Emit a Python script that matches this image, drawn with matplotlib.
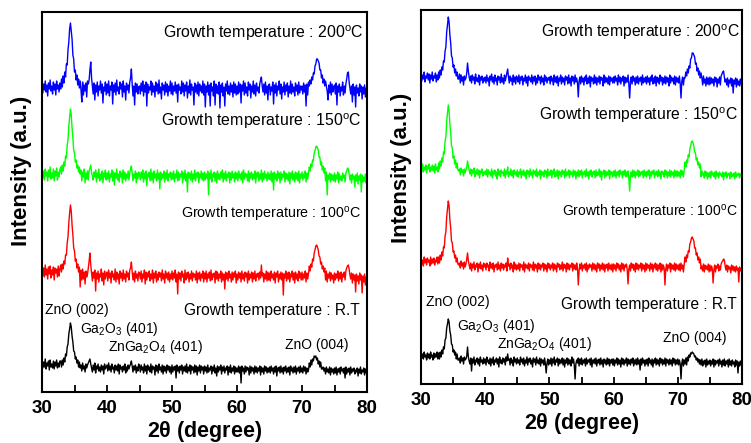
import numpy as np
import matplotlib
matplotlib.use("Agg")
import matplotlib.pyplot as plt
from matplotlib.ticker import MultipleLocator

plt.rcParams['font.family'] = ['Liberation Sans', 'DejaVu Sans']
plt.rcParams['mathtext.fontset'] = 'custom'
plt.rcParams['mathtext.rm'] = 'Liberation Sans'
plt.rcParams['mathtext.default'] = 'regular'

# 2-theta sampling: 30..80 deg, step 0.125 deg (401 points)
two_theta = np.linspace(30, 80, 401)

# ---------------- left panel: intensities (a.u.) ----------------
left_200 = [
 26,15,24,18,27,16,23,12,25,19,28,17,22,14,26,18,24,13,27,19,23,16,25,19,29,21,32,25,36,31,44,43,58,66,79,85,77,69,53,49,
 36,38,28,33,23,29,20,27,18,6,26,13,23,17,25,11,27,24,28,38,46,30,22,14,25,8,23,16,26,12,22,18,27,15,24,5,21,17,26,13,
 24,15,27,12,22,18,26,4,23,16,25,13,28,17,21,14,26,19,24,11,27,16,22,8,25,18,23,15,26,30,39,24,12,22,3,25,16,24,14,21,
 22,14,25,17,27,12,23,16,26,2,24,15,21,18,27,13,25,16,22,11,26,17,24,14,28,15,21,9,25,18,23,13,26,16,24,12,22,17,27,14,
 25,13,22,17,26,15,23,6,24,18,21,14,27,16,25,12,23,17,26,10,22,15,28,13,24,18,21,3,25,16,23,14,26,12,24,17,22,15,27,13,
 24,1,22,16,26,13,23,2,25,17,21,12,27,3,24,15,22,14,26,0,23,16,25,12,21,2,24,17,27,14,22,13,25,16,23,11,26,15,24,13,
 22,14,26,16,24,5,23,17,27,13,25,15,21,12,26,18,24,10,22,16,27,14,23,12,25,17,21,15,24,28,31,22,16,24,13,26,15,22,8,23,
 24,13,21,17,26,4,23,15,25,12,22,18,27,14,24,9,21,16,26,13,23,17,25,11,22,15,27,14,24,16,21,12,25,17,23,13,26,15,22,18,
 22,14,25,16,23,2,24,13,26,22,28,24,31,28,35,34,42,44,49,49,47,45,38,38,30,33,25,29,22,27,22,17,8,23,15,26,13,24,16,21,
 23,14,25,3,22,16,24,12,21,17,26,13,22,15,24,29,35,36,26,20,14,22,6,24,13,21,1,23,15,20,12,24,16,22,9,21,14,23,11,20,
 18]
left_150 = [
 27,17,24,15,26,19,23,14,25,18,28,16,22,17,26,14,24,19,27,15,23,18,25,28,21,30,24,33,29,39,37,50,55,69,78,86,80,67,57,45,
 42,33,35,27,30,23,28,21,25,14,23,18,26,12,22,16,24,15,24,27,30,22,19,15,23,18,25,13,22,17,26,14,21,16,24,12,22,18,25,15,
 22,16,24,13,21,18,25,14,23,10,22,17,26,15,21,13,24,18,22,12,25,16,23,14,21,17,24,15,22,26,29,22,14,21,17,24,12,22,16,23,
 21,15,23,17,25,13,22,16,24,9,21,18,23,14,26,15,22,12,24,17,21,14,25,16,22,6,23,15,21,17,24,13,22,16,25,14,21,18,23,15,
 22,16,24,13,21,17,25,14,23,15,21,18,24,12,22,16,25,14,21,3,23,17,22,15,24,13,21,16,25,14,22,18,23,12,21,17,24,15,22,14,
 23,15,21,17,24,0,22,16,25,13,21,18,23,14,22,12,24,16,21,15,23,17,25,13,22,16,24,14,21,18,23,12,22,15,24,17,21,13,23,16,
 22,14,24,17,21,15,23,12,25,16,22,18,21,14,24,13,22,17,23,15,21,16,24,12,22,18,23,14,21,16,25,13,22,15,24,17,21,14,23,16,
 21,15,24,13,22,5,23,16,21,14,24,17,22,12,23,15,21,18,24,13,22,16,21,14,23,11,22,17,24,15,21,13,23,16,22,14,24,12,21,17,
 23,15,21,17,24,13,22,16,22,28,24,31,28,35,34,42,44,48,49,47,45,38,38,30,33,25,29,22,27,14,23,0,20,16,22,13,21,15,20,14,
 22,13,20,16,23,12,21,15,19,14,22,17,20,13,22,24,27,26,21,15,20,12,21,16,19,8,20,14,22,11,19,15,21,3,20,13,18,14,21,12,
 17]
left_100 = [
 29,19,27,18,30,20,26,16,28,21,29,17,25,20,28,15,27,22,26,18,29,19,26,30,23,31,26,34,31,40,40,52,58,72,82,90,84,70,60,47,
 44,34,36,27,31,23,28,8,25,15,26,16,23,11,24,18,21,27,34,42,30,22,14,23,17,25,4,22,16,24,13,21,18,26,14,22,10,24,16,21,
 23,14,25,17,22,12,24,18,21,15,26,13,23,16,21,11,24,17,22,14,25,16,21,13,24,18,22,15,25,27,33,23,15,22,13,24,17,21,14,23,
 22,16,24,13,21,17,25,11,23,15,22,18,24,14,21,16,25,12,22,17,24,13,21,15,23,18,22,14,25,16,21,12,24,17,22,15,23,13,21,16,
 24,15,22,17,25,13,21,1,23,16,22,14,24,18,21,12,25,15,22,17,23,13,21,16,24,14,22,18,21,15,24,12,22,16,23,14,21,17,24,13,
 22,16,24,13,21,17,23,14,25,15,21,18,22,12,24,16,23,14,21,17,24,13,22,15,21,6,23,16,22,14,24,17,21,13,23,15,22,18,24,12,
 21,15,23,17,22,13,24,16,21,14,23,18,22,12,24,15,21,17,23,13,22,16,24,14,21,18,22,15,23,17,30,19,22,13,21,16,24,14,23,15,
 22,14,24,17,21,15,23,12,22,18,24,13,21,16,23,15,22,0,21,17,24,14,22,16,23,13,21,18,24,15,22,12,23,16,21,14,24,17,22,15,
 23,15,21,17,24,13,22,16,21,29,24,31,28,36,34,42,45,49,50,48,45,39,38,31,33,26,29,23,27,15,24,13,21,17,23,14,22,16,20,12,
 22,15,21,17,24,14,22,16,23,13,21,18,23,15,24,27,29,30,26,20,16,22,12,21,15,20,3,21,14,19,11,22,15,20,2,19,13,21,10,18,
 17]
left_rt = [
 27,19,25,20,28,18,24,21,26,17,27,20,23,19,26,18,25,21,27,19,24,20,26,26,20,27,22,29,25,33,31,40,43,53,58,64,60,51,45,36,
 35,28,30,24,27,20,25,19,22,16,24,18,21,15,23,19,22,24,26,28,23,19,15,22,17,24,14,21,18,23,16,20,15,22,17,21,13,23,18,20,
 22,16,24,17,21,15,23,18,20,14,22,17,21,16,23,13,22,18,20,15,21,17,23,14,20,16,22,18,21,23,26,21,15,21,17,22,14,20,16,23,
 21,15,22,17,20,14,23,16,21,13,22,17,20,15,23,14,21,18,20,12,22,16,21,14,23,17,20,15,22,13,21,16,20,14,22,17,21,15,20,13,
 22,15,20,17,21,9,22,16,20,14,21,17,22,13,20,16,21,15,23,14,20,16,22,13,21,17,20,14,22,15,21,12,20,16,22,14,21,17,20,13,
 21,16,20,14,22,15,19,17,21,13,20,16,22,14,19,11,21,15,20,17,22,13,20,16,21,14,19,17,21,12,20,15,22,14,19,16,21,13,20,15,
 19,15,21,14,20,4,21,16,19,13,21,15,20,17,19,12,21,14,20,16,19,13,21,15,20,14,19,16,21,12,20,15,19,13,21,16,20,14,19,15,
 20,14,21,16,19,13,20,15,21,11,19,16,20,14,21,15,19,13,20,16,21,14,19,15,20,12,21,16,19,14,20,15,21,13,19,16,20,14,21,15,
 19,14,21,16,20,13,19,15,17,24,20,27,22,28,26,31,30,31,27,29,23,26,20,25,18,18,20,16,19,13,20,15,18,14,20,12,19,15,18,13,
 19,14,20,12,18,15,19,13,20,16,18,14,19,9,20,13,18,15,19,12,20,14,18,16,19,13,17,15,19,11,18,14,20,13,17,15,19,12,18,14,
 16]

# ---------------- right panel: intensities (a.u.) ----------------
right_200 = [
 25,18,24,20,27,17,23,21,26,19,25,16,24,20,27,18,23,21,26,17,24,19,27,21,29,24,32,29,38,37,48,52,67,74,82,77,64,56,43,41,
 32,34,26,30,23,27,20,20,25,16,24,18,22,14,23,19,21,26,36,28,22,18,23,16,24,19,22,15,25,18,21,17,24,14,22,19,23,16,21,18,
 22,16,24,18,21,13,23,19,25,17,22,15,24,18,21,14,23,19,22,16,25,17,21,15,24,18,22,26,30,22,16,23,18,21,14,24,17,22,15,23,
 21,17,24,15,22,19,23,14,21,18,24,16,22,13,23,19,21,17,24,15,22,18,23,14,21,16,24,19,22,15,23,17,21,14,24,18,22,16,21,19,
 22,15,23,18,21,14,24,17,22,16,23,13,21,18,24,15,22,17,21,14,23,19,22,15,24,16,21,13,23,18,22,15,24,17,21,16,2,18,22,15,
 23,17,21,14,22,18,24,15,21,16,23,12,22,18,21,15,24,16,22,14,21,17,23,15,22,19,21,13,24,16,22,17,21,15,23,14,22,18,21,16,
 22,16,23,18,21,14,24,17,22,15,21,18,23,13,22,16,21,17,24,15,1,17,22,15,23,18,21,14,22,16,23,15,21,18,22,14,24,16,21,17,
 22,15,23,17,21,14,22,18,24,15,21,16,23,13,22,17,21,15,24,18,22,14,21,16,23,15,22,17,21,13,24,16,22,18,21,15,23,14,22,17,
 21,16,23,15,1,18,22,14,21,21,27,23,30,26,33,31,40,41,46,46,44,42,35,36,28,31,24,28,21,26,21,14,23,16,20,13,22,15,21,14,
 22,15,21,16,20,13,22,17,21,12,20,16,22,14,23,25,27,28,22,17,20,14,21,12,19,16,21,13,20,6,19,15,21,12,20,14,18,13,20,15,
 17]
right_150 = [
 25,20,27,19,24,21,26,18,25,22,27,19,24,21,26,20,25,18,27,21,24,19,28,22,30,25,33,29,39,37,50,54,70,78,86,80,67,58,45,43,
 33,35,27,31,23,28,21,20,22,16,23,19,21,15,22,18,21,24,30,25,21,17,22,15,21,18,23,14,20,17,22,16,21,13,20,18,22,15,19,17,
 20,16,22,14,21,17,19,15,22,13,20,17,21,15,19,12,22,16,20,14,21,18,19,15,22,13,20,17,24,14,19,16,22,15,20,13,21,17,19,15,
 21,14,19,17,22,13,20,16,21,15,19,12,21,17,20,14,22,16,19,13,21,17,20,15,22,14,19,16,21,12,20,16,19,14,21,17,20,13,22,15,
 19,16,21,13,20,17,22,14,19,15,21,12,20,16,19,14,21,17,20,13,22,15,19,16,21,13,20,17,19,14,21,16,20,12,19,15,21,14,20,16,
 21,13,19,17,20,14,22,15,19,12,20,16,21,14,19,17,20,13,21,15,19,16,22,14,20,11,19,17,21,13,20,15,19,16,21,12,20,17,19,14,
 20,15,21,13,19,16,20,14,21,17,19,13,20,16,21,14,19,15,20,12,0,16,19,14,21,15,20,13,19,16,21,14,20,15,19,17,20,13,21,15,
 19,14,20,16,21,12,19,15,20,17,21,13,19,16,20,14,21,15,19,12,20,17,19,14,21,16,20,13,19,15,21,14,20,16,19,13,21,15,20,14,
 20,15,19,13,21,16,20,14,21,29,24,31,28,36,34,42,45,49,50,48,45,39,38,31,33,26,29,23,27,14,20,16,18,13,20,15,19,12,18,14,
 19,13,20,16,18,14,19,12,20,15,18,13,19,16,17,14,19,11,18,15,19,13,17,16,18,12,19,14,17,15,18,12,19,14,17,16,18,13,17,15,
 16]
right_100 = [
 27,21,25,19,28,22,26,20,27,23,25,19,28,21,26,22,27,20,25,23,28,21,28,22,30,25,33,29,38,37,49,53,68,76,84,79,65,57,44,42,
 33,34,27,30,23,27,21,20,22,17,24,19,22,16,23,18,21,26,32,24,20,16,22,14,21,17,23,15,20,18,22,13,21,17,23,16,20,14,22,18,
 21,15,22,18,20,14,23,17,21,16,22,13,20,18,21,15,23,16,20,14,22,17,21,15,20,18,22,14,27,19,21,15,22,17,20,13,23,16,21,15,
 20,16,22,14,21,18,20,15,23,13,21,17,20,16,22,14,21,18,20,15,23,14,21,17,20,13,22,16,21,15,20,18,22,14,21,16,20,13,22,17,
 21,15,20,17,22,14,21,16,20,13,22,18,21,15,20,16,23,14,21,17,20,13,22,16,21,15,20,18,22,14,21,16,20,15,22,17,0,14,21,16,
 22,14,20,17,21,15,22,13,20,16,21,18,20,14,22,16,21,15,20,13,22,17,21,14,20,16,22,15,21,13,20,17,21,14,22,16,20,15,21,13,
 21,16,20,14,22,17,21,15,20,13,22,16,21,14,20,18,21,15,1,16,20,14,22,17,21,15,20,13,22,16,21,15,20,17,22,14,21,16,20,13,
 22,15,21,17,20,14,22,16,21,13,20,17,22,15,21,14,20,16,22,13,21,15,20,17,0,16,21,14,20,17,22,13,21,16,20,15,22,14,21,16,
 20,15,21,14,22,16,20,13,21,28,23,30,27,34,33,41,43,47,48,46,44,37,37,30,32,25,28,22,26,16,19,14,21,13,20,16,19,15,21,13,
 20,14,19,16,2,15,20,13,19,17,21,14,19,15,21,23,24,26,25,19,15,20,13,19,16,18,12,20,15,19,14,18,13,19,15,17,3,18,14,16,
 15]
right_rt = [
 26,21,25,20,27,22,24,19,26,21,25,20,27,22,24,19,26,21,25,22,27,20,26,20,27,22,29,25,32,30,39,41,51,55,60,57,48,44,35,34,
 27,29,24,27,20,25,19,19,21,16,23,18,21,15,22,19,20,23,32,22,18,15,21,8,20,16,22,14,19,17,21,15,20,13,22,17,19,15,21,16,
 20,14,22,17,19,15,21,13,20,16,22,14,19,17,21,15,20,12,22,16,19,15,21,17,20,14,22,18,25,19,20,14,21,16,19,13,22,17,20,15,
 21,16,19,14,22,17,20,15,21,13,19,16,22,14,20,17,21,15,19,12,21,17,20,14,22,16,19,15,21,13,20,16,19,14,21,15,6,16,20,14,
 19,15,21,13,20,16,22,14,19,17,21,13,20,15,19,16,21,14,20,12,19,16,21,14,20,15,19,13,22,16,20,14,0,15,19,16,21,13,20,15,
 21,14,19,16,20,13,21,15,19,17,20,14,21,12,19,16,20,15,21,13,19,16,20,14,21,15,19,12,20,16,19,14,21,15,20,13,19,16,20,14,
 20,13,19,16,21,14,20,15,19,12,21,15,20,14,19,16,21,13,20,15,19,14,20,16,21,13,19,15,20,14,21,15,19,9,20,14,21,16,19,13,
 19,15,20,13,21,16,19,14,20,12,19,16,21,14,20,15,19,13,21,16,20,14,19,15,21,13,20,16,19,14,20,15,19,13,21,16,20,14,19,15,
 20,14,19,15,0,16,20,13,19,15,21,14,22,18,24,22,26,25,27,26,25,22,23,19,21,17,20,15,19,14,20,13,18,15,19,12,20,14,18,15,
 19,13,18,15,20,12,19,14,18,16,19,13,20,15,18,12,19,14,20,13,18,15,19,12,20,14,18,13,19,15,17,12,19,14,18,6,17,13,18,14,
 15]

left_offsets = [284, 197, 97, 5]
right_offsets = [285, 193, 99, 5]

series_colors = ['#0000ff', '#00ff00', '#ff0000', '#000000']
temp_labels = [r"Growth temperature : 200$^{o}$C",
               r"Growth temperature : 150$^{o}$C",
               r"Growth temperature : 100$^{o}$C",
               "Growth temperature : R.T"]
peak_labels = ["ZnO (002)", r"Ga$_2$O$_3$ (401)", r"ZnGa$_2$O$_4$ (401)", "ZnO (004)"]
xticks = [30, 40, 50, 60, 70, 80]

for name, s in [('left_200', left_200), ('left_150', left_150), ('left_100', left_100),
                ('left_rt', left_rt), ('right_200', right_200), ('right_150', right_150),
                ('right_100', right_100), ('right_rt', right_rt)]:
    assert len(s) == 401, (name, len(s))

W, H = 751, 443
fig = plt.figure(figsize=(W / 100, H / 100), dpi=100)


def make_panel(px_left, px_right, px_top, px_bottom, series, offsets,
               label_pos, label_sizes, peak_pos, ylab_xy):
    ax = fig.add_axes([px_left / W, 1 - px_bottom / H,
                       (px_right - px_left) / W, (px_bottom - px_top) / H])
    for ys, off, c in zip(series, offsets, series_colors):
        ax.plot(two_theta, np.asarray(ys, float) + off, color=c, lw=1.0)
    ax.set_xlim(30, 80)
    ax.set_ylim(0, px_bottom - px_top)
    ax.set_yticks([])
    ax.set_xticks(xticks)
    ax.xaxis.set_minor_locator(MultipleLocator(5))
    ax.tick_params(axis='x', which='both', direction='in', top=False,
                   width=1.3, length=5, labelsize=13.5, pad=6)
    for lab in ax.get_xticklabels():
        lab.set_fontweight('bold')
    for sp in ax.spines.values():
        sp.set_linewidth(1.5)
    ax.set_xlabel(r"2$\theta$ (degree)", fontsize=15.5, fontweight='bold', labelpad=1)

    def fx(px):
        return (px - px_left) / (px_right - px_left)

    def fy(py):
        return (px_bottom - py) / (px_bottom - px_top)

    for (rx, cy), txt, fs in zip(label_pos, temp_labels, label_sizes):
        ax.text(fx(rx), fy(cy), txt, transform=ax.transAxes, ha='right',
                va='center', fontsize=fs)
    for (lx, cy), txt in zip(peak_pos, peak_labels):
        ax.text(fx(lx), fy(cy), txt, transform=ax.transAxes, ha='left',
                va='center', fontsize=10)
    fig.text(ylab_xy[0] / W, 1 - ylab_xy[1] / H, "Intensity (a.u.)", rotation=90,
             ha='center', va='center', fontsize=16, fontweight='bold')
    return ax


make_panel(42, 367, 12, 392,
           [left_200, left_150, left_100, left_rt], left_offsets,
           [(363, 33), (361, 121), (361, 214), (360, 311)],
           [11.4, 11.4, 10.3, 11.2],
           [(45, 310), (80, 329), (108, 347), (285, 345)],
           (22, 171))
make_panel(421, 742, 10, 384,
           [right_200, right_150, right_100, right_rt], right_offsets,
           [(740, 32), (738, 115), (738, 213), (737, 305)],
           [11.3, 11.3, 10.0, 11.2],
           [(426, 302), (457, 326), (497, 344), (663, 338)],
           (401, 168))

fig.savefig("out.png", dpi=100)
